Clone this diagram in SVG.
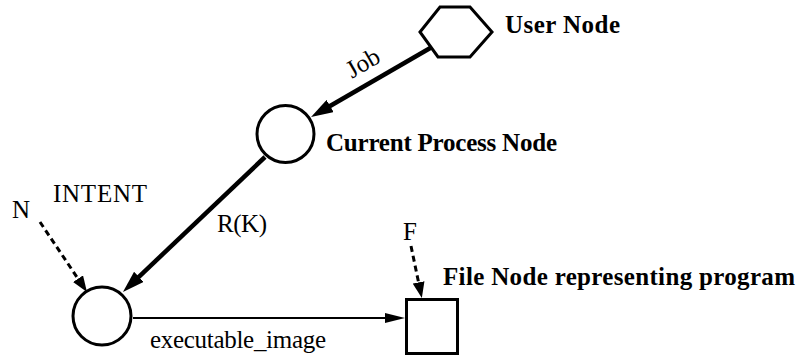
<svg xmlns="http://www.w3.org/2000/svg" width="801" height="360" viewBox="0 0 801 360">
  <style>
    .shape { fill: #ffffff; stroke: #000000; stroke-width: 3; }
    .edge-thick { fill: none; stroke: #000000; stroke-width: 4.5; stroke-linecap: butt; }
    .edge-thin { fill: none; stroke: #000000; stroke-width: 2; }
    .edge-dash { fill: none; stroke: #000000; stroke-width: 3; stroke-dasharray: 6 4; }
    .label-bold { font-family: "Liberation Serif", "Times New Roman", serif; font-weight: bold; font-size: 25px; fill: #000000; }
    .label { font-family: "Liberation Serif", "Times New Roman", serif; font-size: 25px; fill: #000000; }
  </style>
  <defs>
    <marker id="head-lg" markerUnits="userSpaceOnUse" viewBox="0 0 22 14" refX="12" refY="7" markerWidth="22" markerHeight="14" orient="auto">
      <path d="M0,0 L22,7 L0,14 Z" fill="#000000"/>
    </marker>
    <marker id="head-sm" markerUnits="userSpaceOnUse" viewBox="0 0 20 10" refX="10" refY="5" markerWidth="20" markerHeight="10" orient="auto">
      <path d="M0,0 L20,5 L0,10 Z" fill="#000000"/>
    </marker>
    <marker id="head-dash" markerUnits="userSpaceOnUse" viewBox="0 0 16 12" refX="8" refY="6" markerWidth="16" markerHeight="12" orient="auto">
      <path d="M0,0 L16,6 L0,12 Z" fill="#000000"/>
    </marker>
  </defs>

  <g id="connectors">
    <!-- Job: user node to current process -->
    <path class="edge-thick" d="M432,47 L319.7,112" marker-end="url(#head-lg)"/>
    <!-- R(K): current process to intent node -->
    <path class="edge-thick" d="M265,157 L130.2,285.1" marker-end="url(#head-lg)"/>
    <!-- executable_image -->
    <path class="edge-thin" d="M133,318 L395,318" marker-end="url(#head-sm)"/>
    <!-- N pointer -->
    <path class="edge-dash" d="M40,222 L82.5,285.4" marker-end="url(#head-dash)"/>
    <!-- F pointer -->
    <path class="edge-dash" d="M411,246 L420.2,290.2" marker-end="url(#head-dash)"/>
    <text class="label" transform="translate(367,70) rotate(-30)" text-anchor="middle" font-size="23">Job</text>
    <text class="label" x="217" y="232" textLength="50">R(K)</text>
    <text class="label" x="150" y="348" textLength="176">executable_image</text>
    <text class="label" x="12" y="218" font-size="23">N</text>
    <text class="label" x="403" y="240" font-size="22">F</text>
  </g>

  <g id="user-node">
    <polygon class="shape" points="420,32 440,7 470,7 492,32 470,57 438,57"/>
    <text class="label-bold" x="505" y="33" textLength="115">User Node</text>
  </g>

  <g id="current-process-node">
    <circle class="shape" cx="285.5" cy="134" r="28.5"/>
    <text class="label-bold" x="326" y="151" textLength="231">Current Process Node</text>
  </g>

  <g id="intent-node">
    <circle class="shape" cx="102" cy="316" r="29"/>
    <text class="label" x="53" y="202" font-size="26" textLength="94">INTENT</text>
  </g>

  <g id="file-node">
    <rect class="shape" x="406.5" y="299.5" width="51" height="54"/>
    <text class="label-bold" x="443" y="285" textLength="352">File Node representing program</text>
  </g>
</svg>
